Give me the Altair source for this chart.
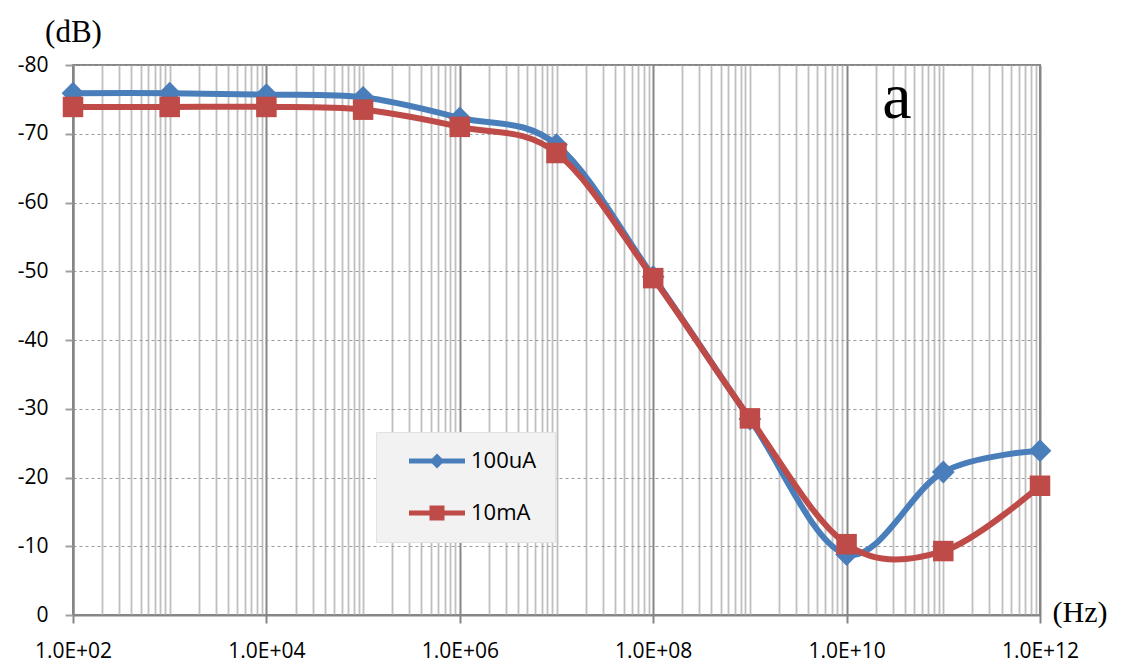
import altair as alt
import pandas as pd

# ---- data ----
freq_hz = [1e2, 1e3, 1e4, 1e5, 1e6, 1e7, 1e8, 1e9, 1e10, 1e11, 1e12]
db_100uA = [-75.9, -75.9, -75.7, -75.3, -72.3, -68.4, -49.2, -28.5, -8.8, -20.8, -23.9]
db_10mA = [-73.9, -73.9, -73.9, -73.5, -71.0, -67.2, -49.0, -28.6, -10.3, -9.3, -18.8]
series_names = ["100uA", "10mA"]
series_colors = ["#4A7EBB", "#BE4B48"]
series_shapes = ["diamond", "square"]
series_sizes = [520, 420]
y_ticks = [0, -10, -20, -30, -40, -50, -60, -70, -80]
x_tick_labels = ["1.0E+02", "1.0E+04", "1.0E+06", "1.0E+08", "1.0E+10", "1.0E+12"]
annotations = ["a"]

# legend symbols: line segment with the marker in its middle
legend_paths = [
    "M0.4,-0.25L6,-0.25L6,0.25L0.4,0.25Z M2.45,0L3.2,-0.75L3.95,0L3.2,0.75Z",
    "M0.4,-0.25L6,-0.25L6,0.25L0.4,0.25Z M2.45,-0.75L3.95,-0.75L3.95,0.75L2.45,0.75Z",
]

rows = []
for name, vals in zip(series_names, [db_100uA, db_10mA]):
    for f, v in zip(freq_hz, vals):
        rows.append({"freq": f, "db": v, "series": name})
df = pd.DataFrame(rows)

# grid positions on the log axis: 1..9 x 10^k
x_grid = sorted(set([m * 10 ** k for k in range(2, 12) for m in range(1, 10)] + [10 ** 12]))

even_test = "abs(log(datum.value)/LN10 - 2*round(log(datum.value)/LN10/2)) < 0.001"
label_array = "[" + ",".join("'" + s + "'" for s in x_tick_labels) + "]"
x_label_expr = "(" + even_test + ") ? " + label_array + "[round(log(datum.value)/LN10/2) - 1] : ''"

W, H = 967, 550

x_enc = alt.X(
    "freq:Q",
    scale=alt.Scale(type="log", domain=[1e2, 1e12], nice=False),
    axis=alt.Axis(
        values=x_grid,
        labelExpr=x_label_expr,
        labelOverlap=False,
        labelFlush=False,
        labelFont="Open Sans",
        labelFontSize=21,
        labelColor="#000000",
        labelPadding=17,
        tickSize=8,
        tickColor="#868686",
        tickWidth=2,
        tickOpacity={"condition": {"test": even_test, "value": 1}, "value": 0},
        grid=True,
        gridColor={"condition": {"test": even_test, "value": "#868686"}, "value": "#BFBFBF"},
        gridWidth={"condition": {"test": even_test, "value": 2}, "value": 1.8},
        domainColor="#868686",
        domainWidth=2,
        title="(Hz)",
        titleFont="Liberation Serif",
        titleFontSize=30,
        titleFontWeight="normal",
        titleColor="#000000",
        titleX=979,
        titleY=6,
        titleAlign="left",
        titleBaseline="alphabetic",
    ),
)

y_enc = alt.Y(
    "db:Q",
    scale=alt.Scale(domain=[-80, 0], reverse=True, nice=False),
    axis=alt.Axis(
        values=y_ticks,
        labelExpr="datum.value < 0 ? '-' + abs(datum.value) : '' + datum.value",
        labelFont="Open Sans",
        labelFontSize=21,
        labelColor="#000000",
        labelPadding=17,
        labelFlush=False,
        tickSize=8,
        tickColor="#A0A0A0",
        tickWidth=2,
        grid=True,
        gridColor="#9A9A9A",
        gridDash=[3, 3],
        gridWidth=1,
        domainColor="#868686",
        domainWidth=2,
        title="(dB)",
        titleFont="Liberation Serif",
        titleFontSize=31,
        titleFontWeight="normal",
        titleColor="#000000",
        titleAngle=0,
        titleX=0,
        titleY=-24,
        titleAlign="center",
        titleBaseline="alphabetic",
    ),
)

color_scale = alt.Scale(domain=series_names, range=series_colors)
base = alt.Chart(df)

layers = []
for name, shape, size in zip(series_names, series_shapes, series_sizes):
    sub = base.transform_filter(alt.datum.series == name)
    layers.append(
        sub.mark_line(interpolate="cardinal", strokeWidth=6).encode(
            x=x_enc, y=y_enc, color=alt.Color("series:N", scale=color_scale, legend=None)
        )
    )
    layers.append(
        sub.mark_point(shape=shape, filled=True, size=size, opacity=1).encode(
            x=x_enc, y=y_enc, color=alt.Color("series:N", scale=color_scale, legend=None)
        )
    )

legend_props = dict(
    title=None,
    orient="none",
    legendX=303,
    legendY=367,
    fillColor="#F2F2F2",
    strokeColor="#E2E2E2",
    padding=18,
    rowPadding=30,
    symbolSize=400,
    symbolStrokeWidth=0,
    symbolOpacity=1,
    labelOffset=55,
    labelFont="Open Sans",
    labelFontSize=22,
    labelColor="#000000",
    labelExpr="datum.label + '\u00a0\u00a0\u00a0\u00a0'",
)

legend_layer = base.mark_point(filled=True, opacity=0).encode(
    x=x_enc,
    y=y_enc,
    color=alt.Color("series:N", scale=color_scale, legend=alt.Legend(**legend_props)),
    shape=alt.Shape(
        "series:N",
        scale=alt.Scale(domain=series_names, range=legend_paths),
        legend=alt.Legend(**legend_props),
    ),
)
layers.append(legend_layer)

label_layer = alt.Chart(pd.DataFrame({"t": annotations})).mark_text(
    font="Liberation Serif", fontSize=66, align="center", baseline="alphabetic", color="#000000"
).encode(text="t:N", x=alt.value(824), y=alt.value(53))
layers.append(label_layer)

chart = (
    alt.layer(*layers)
    .resolve_legend(color="independent", shape="independent")
    .properties(
        width=W,
        height=H,
        autosize=alt.AutoSizeParams(type="none"),
        padding={"left": 73, "top": 65, "right": 82, "bottom": 51},
        background="#FFFFFF",
    )
    .configure_view(stroke="#868686", strokeWidth=2)
)

chart.save("out.html", embed_options={"renderer": "svg", "actions": False})
